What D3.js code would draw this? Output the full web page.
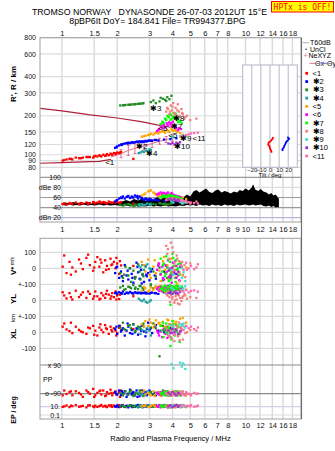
<!DOCTYPE html>
<html>
<head>
<meta charset="utf-8">
<script src="https://cdn.jsdelivr.net/npm/d3@7/dist/d3.min.js"></script>
<style>
  body { margin: 0; background: #fff; }
  text { font-family: "Liberation Sans", Arial, sans-serif; }
</style>
</head>
<body>
<svg id="chart" width="335" height="451"></svg>
<script>
// ---- data ----
const freqTicks = [1, 1.5, 2, 3, 4, 5, 6, 7, 8, 10, 12, 14, 16, 18];
const freqTicksMid = [1, 1.5, 2, 3, 4, 5, 6, 7, 8, 9, 10, 12, 14, 16, 18];
const rangeTicks = [800, 600, 400, 300, 200, 150, 120, 100, 90, 80];
const tiltTicks = [-20, -10, 0, 10, 20];
const classNames = ["<1", "✱2", "✱3", "✱4", "<5", "<6", "✱7", "✱8", "✱9", "✱10", "<11"];
const classColors = ["#ff0000", "#0000ff", "#228b22", "#20a0a0", "#ffa500", "#ff00ff",
                     "#00ff00", "#f08080", "#40e0d0", "#9932cc", "#ff69b4"];

// echo rows: [freq MHz, range km, amp dB, V* m/s, YL km, XL km, PP deg, EP deg]
const e1 = [
  [1.03, 91, 48, 80, 30, 55, -70, 12], [1.06, 92, 46, -30, 12, 18, -92, 20],
  [1.10, 93, 49, 40, 45, 8, -80, 8], [1.14, 92, 47, 5, 5, -5, -100, 14],
  [1.19, 95, 50, -20, 60, 35, -75, 25], [1.24, 94, 47, 55, 20, 15, -85, 10],
  [1.30, 95, 48, -5, 50, 0, -110, 16], [1.36, 96, 50, 65, 15, -10, -70, 7],
  [1.42, 96, 49, 20, 40, 25, -90, 22], [1.48, 95, 51, -15, 10, 40, -60, 12],
  [1.52, 98, 48, 40, 55, 10, -100, 18], [1.56, 97, 50, 70, 25, -20, -85, 9],
  [1.60, 99, 52, 10, 5, 30, -75, 14], [1.64, 97, 49, 35, 45, 15, -95, 26],
  [1.68, 100, 51, -25, 30, 0, -70, 11], [1.72, 98, 50, 50, 15, 45, -105, 17],
  [1.76, 101, 48, 15, 60, 20, -80, 8], [1.80, 99, 52, -5, 35, -10, -90, 21],
  [1.84, 102, 50, 60, 10, 35, -65, 13], [1.88, 100, 49, 25, 45, 5, -100, 9],
  [1.92, 103, 51, 40, 20, 25, -85, 19], [1.96, 101, 50, 0, 55, 10, -75, 12],
  [2.00, 104, 52, 30, 30, -5, -95, 15], [2.05, 103, 49, -35, 8, 28, -80, 24],
  [2.10, 105, 51, 18, 42, 12, -70, 10], [2.45, 93, 48, 15, 25, 20, -90, 12],
  [1.01, 90, 47, 10, 50, 35, -100, 9], [1.12, 93, 48, -40, 20, 60, -75, 18],
  [1.27, 94, 49, 30, 35, 5, -95, 12], [1.39, 96, 47, 85, 55, 30, -80, 20],
  [1.50, 97, 50, 5, 25, -15, -110, 8], [1.62, 98, 51, 55, 10, 50, -70, 16],
  [1.74, 99, 49, -10, 40, 25, -100, 11], [1.86, 101, 50, 20, 25, 15, -85, 23],
  [1.98, 103, 52, 65, 5, -20, -95, 9], [2.07, 104, 50, 45, 35, 40, -110, 14]
];
const e2 = [
  [1.95, 113, 52, -30, 45, 20, -80, 12], [2.00, 116, 55, 10, 40, -10, -95, 20],
  [2.05, 118, 58, -60, 50, 40, -70, 8], [2.10, 120, 60, -20, 45, 5, -100, 15],
  [2.15, 121, 62, -80, 55, 25, -85, 25], [2.20, 122, 58, 20, 40, -20, -75, 10],
  [2.25, 123, 61, -45, 48, 10, -110, 18], [2.30, 124, 63, -70, 44, 35, -90, 7],
  [2.35, 123, 59, 0, 52, -5, -65, 22], [2.40, 125, 62, -35, 46, 15, -95, 12],
  [2.45, 124, 60, -90, 42, 50, -80, 16], [2.50, 125, 64, -55, 50, 0, -100, 9],
  [2.55, 126, 61, 35, 46, 25, -70, 14], [2.60, 125, 58, -25, 44, -15, -90, 26],
  [2.65, 127, 62, -65, 48, 30, -105, 11], [2.70, 126, 60, -10, 43, 10, -85, 17],
  [2.75, 127, 57, -40, 47, 45, -75, 8], [2.80, 126, 55, -85, 45, 5, -95, 21],
  [2.85, 128, 58, 15, 49, -25, -80, 13], [2.90, 127, 56, -50, 44, 20, -100, 9],
  [2.95, 128, 54, -30, 46, 60, -90, 19], [3.00, 129, 57, -75, 42, 15, -70, 12],
  [3.10, 128, 55, -5, 48, -5, -95, 15], [3.20, 130, 56, -45, 45, 35, -85, 24],
  [3.35, 129, 54, 25, 40, 10, -80, 10], [3.60, 131, 53, -20, 50, 0, -90, 14],
  [3.90, 132, 55, -60, 45, 25, -100, 12], [4.20, 134, 52, -35, 42, 5, -85, 18],
  [1.98, 114, 54, 5, 48, 35, -90, 10], [2.12, 119, 59, -50, 42, 15, -75, 19],
  [2.28, 122, 62, -15, 46, 55, -95, 13], [2.42, 124, 60, -60, 44, -10, -85, 8],
  [2.58, 126, 63, 10, 47, 20, -110, 22], [2.72, 125, 59, -95, 45, 40, -70, 12],
  [2.88, 127, 57, -40, 43, 0, -95, 16], [3.05, 128, 56, -20, 47, 25, -80, 9],
  [3.25, 130, 55, -65, 44, 45, -100, 20]
];
const e3 = [
  [2.08, 240, 45, -30, 80, 30, -85, 12], [2.15, 241, 44, -60, 90, 60, -100, 20],
  [2.22, 242, 46, 10, 70, 15, -75, 8], [2.30, 243, 47, -45, 85, 40, -95, 15],
  [2.38, 244, 45, -85, 75, 25, -70, 25], [2.45, 245, 43, -15, 95, 50, -105, 10],
  [2.52, 246, 46, -55, 80, 10, -85, 18], [2.60, 247, 44, 25, 70, 35, -90, 7],
  [2.68, 248, 46, -70, 88, 20, -75, 22], [2.75, 249, 45, -35, 78, 45, -100, 12],
  [3.05, 255, 48, -100, 92, 30, -80, 16], [3.15, 262, 47, -20, 75, 55, -95, 9],
  [3.25, 250, 46, -50, 85, 25, -85, 14], [3.40, 258, 49, 5, 68, -150, -85, 26],
  [3.55, 270, 47, -75, 80, 40, -70, 11], [3.65, 265, 48, -30, 90, 15, -90, 17],
  [3.75, 278, 46, -60, 72, 35, -100, 8], [3.85, 268, 47, -10, 85, 20, -80, 21],
  [3.95, 285, 48, -45, 78, 45, -95, 13], [2.18, 241, 45, -40, 65, 20, -90, 10],
  [2.34, 243, 46, 0, 82, 45, -80, 17], [2.50, 245, 44, -65, 72, 5, -95, 12],
  [2.65, 247, 47, -20, 90, 30, -70, 21], [2.78, 250, 45, -50, 66, 55, -105, 9],
  [3.45, 275, 48, -35, 88, 10, -90, 14], [3.70, 260, 46, 15, 70, 30, -85, 11]
];
const e4 = [
  [2.62, 103, 46, 15, 10, 20, -85, 12], [2.68, 104, 44, 5, 0, -10, -95, 20],
  [2.74, 106, 47, 20, -5, 15, -80, 8], [2.80, 105, 45, -10, 5, 35, -100, 15],
  [2.86, 108, 46, 10, -10, 5, -90, 25], [2.92, 107, 48, 25, -15, 25, -75, 10],
  [3.00, 110, 47, 0, -8, 10, -85, 18], [3.05, 109, 45, -5, 0, -20, -95, 12]
];
const e5 = [
  [2.72, 138, 64, 40, 60, 50, -80, 12], [2.85, 140, 68, -20, 75, 70, -95, 20],
  [2.95, 142, 72, 55, 55, 40, -85, 8], [3.05, 145, 74, -60, 80, 60, -100, 15],
  [3.15, 143, 70, 10, 65, 30, -75, 25], [3.25, 148, 66, -30, 85, 75, -90, 10],
  [3.35, 146, 63, 30, 70, 55, -80, 18], [3.45, 150, 65, -80, 60, 45, -105, 7],
  [3.55, 152, 62, 45, 78, 65, -85, 22], [3.65, 148, 64, -10, 55, 35, -95, 12],
  [3.75, 155, 61, 20, 72, 80, -75, 16], [3.85, 150, 63, -50, 82, 50, -90, 9],
  [3.95, 158, 60, 60, 68, 40, -100, 14], [4.05, 153, 62, -25, 76, 70, -85, 26],
  [4.15, 156, 59, 15, 62, 55, -80, 11], [4.25, 150, 61, -95, 88, 45, -95, 17],
  [4.40, 147, 58, 35, 70, 85, -90, 8], [4.55, 143, 60, -40, 74, 90, -85, 21],
  [4.75, 140, 57, 5, 66, 60, -100, 13], [2.80, 139, 66, 20, 85, 35, -70, 16],
  [3.00, 143, 73, -40, 62, 80, -95, 9], [3.20, 146, 68, 50, 78, 45, -105, 20],
  [3.40, 149, 64, -15, 90, 60, -85, 12], [3.60, 150, 63, 70, 58, 30, -95, 17],
  [3.80, 152, 62, -70, 74, 75, -80, 10], [4.00, 155, 61, 0, 84, 50, -90, 23],
  [4.20, 152, 60, -55, 64, 65, -100, 13]
];
const e6 = [
  [3.30, 152, 66, -10, 70, 10, -85, 12], [3.38, 158, 68, 30, 60, -20, -95, 20],
  [3.45, 165, 70, -40, 80, 5, -80, 8], [3.52, 160, 67, 10, 55, -30, -100, 15],
  [3.60, 170, 69, -70, 75, 20, -90, 25], [3.66, 162, 66, 20, 85, -10, -75, 10],
  [3.72, 175, 68, -25, 65, 0, -95, 18], [3.78, 168, 70, 50, 90, 15, -85, 7],
  [3.84, 178, 65, -55, 70, -25, -100, 22], [3.90, 172, 67, 0, 60, 10, -80, 12],
  [3.96, 165, 69, -90, 78, -5, -90, 16], [4.02, 180, 66, 35, 68, 25, -95, 9],
  [4.10, 170, 64, -15, 82, -15, -85, 14], [4.20, 160, 63, 15, 72, 5, -75, 26],
  [4.30, 155, 62, -45, 64, -20, -90, 11], [4.45, 158, 60, 25, 76, 10, -100, 17],
  [3.35, 155, 67, 15, 82, -5, -90, 10], [3.55, 168, 69, -60, 62, 15, -80, 20],
  [3.75, 172, 67, 5, 76, -35, -95, 13], [3.95, 175, 66, -30, 88, 0, -85, 8],
  [4.15, 165, 64, 45, 66, 20, -100, 18], [4.35, 160, 62, -75, 74, -10, -80, 12]
];
const e7 = [
  [3.45, 172, 60, 60, 70, 40, -85, 12], [3.52, 180, 62, -20, 85, 10, -95, 20],
  [3.58, 175, 64, 30, 60, -30, -80, 8], [3.64, 190, 61, -50, 90, 25, -100, 15],
  [3.70, 185, 63, 75, 55, 55, -90, 25], [3.76, 200, 60, 5, 80, -10, -75, 10],
  [3.82, 195, 65, -80, 65, 30, -95, 18], [3.88, 205, 62, 40, 95, 0, -85, 7],
  [3.94, 188, 64, -30, 75, -45, -100, 22], [4.00, 198, 61, 90, 88, 70, -80, 12],
  [4.06, 210, 63, 15, 60, 15, -90, 16], [4.12, 192, 60, -60, 78, -20, -95, 9],
  [4.18, 202, 62, 50, 92, 45, -85, 14], [4.24, 185, 59, -10, 70, 5, -75, 26],
  [4.30, 178, 61, 25, 82, 35, -100, 11], [4.38, 182, 58, -40, 66, -60, -90, 17],
  [4.50, 175, 57, 10, 86, 20, -80, 8], [3.90, 186, 60, -70, -28, -86, -95, 12],
  [3.55, 178, 63, 20, 75, 60, -90, 10], [3.68, 188, 62, -35, 68, 0, -80, 20],
  [3.80, 197, 64, 55, 84, 20, -100, 13], [3.92, 203, 63, -15, 62, -30, -85, 8],
  [4.04, 193, 62, 65, 80, 50, -95, 18], [4.16, 208, 61, -85, 72, 10, -75, 12],
  [4.28, 190, 60, 0, 90, -15, -90, 22], [4.42, 180, 58, 30, 64, 30, -100, 9]
];
const e8 = [
  [3.70, 215, 55, 140, 40, 30, -85, 12], [3.78, 225, 57, 120, 55, -20, -95, 20],
  [3.85, 205, 58, 60, 20, 50, -80, 8], [3.92, 240, 56, 160, 35, 10, -100, 15],
  [3.98, 220, 59, -20, 10, -40, -90, 25], [4.04, 250, 55, 100, 45, 25, -75, 10],
  [4.10, 210, 57, 30, -15, -55, -95, 18], [4.16, 230, 58, -60, 25, 5, -85, 7],
  [4.22, 200, 56, 80, 5, 40, -100, 22], [4.28, 245, 54, -30, -20, -25, -80, 12],
  [4.34, 215, 57, 45, 30, 60, -90, 16], [4.40, 195, 55, -80, 15, -10, -95, 9],
  [4.48, 225, 53, 10, -5, 20, -85, 14], [4.56, 205, 54, -45, 25, -45, -75, 26],
  [4.65, 190, 52, 20, 40, 35, -100, 11], [4.80, 200, 50, -10, 10, 0, -90, 17],
  [5.00, 185, 48, 30, 20, 15, -95, 13], [5.40, 190, 52, 5, 15, 10, -90, 12],
  [3.75, 230, 56, 90, 30, 15, -90, 10], [3.88, 215, 57, -40, -10, -30, -80, 20],
  [4.00, 235, 58, 130, 20, 45, -100, 13], [4.12, 205, 56, -10, 0, -15, -85, 8],
  [4.25, 220, 55, 60, 35, 25, -95, 18], [4.38, 200, 56, -25, -25, -50, -75, 12],
  [4.52, 210, 53, 40, 15, 50, -90, 22], [4.70, 195, 51, -55, 30, -5, -100, 9]
];
const e9 = [
  [3.95, 138, 52, -10, 80, 45, 95, 12], [4.05, 136, 50, -40, 70, 35, 70, 20],
  [4.40, 139, 51, 5, 85, 50, 105, 8], [4.50, 137, 49, -60, 65, 40, 80, 15],
  [4.60, 140, 52, -25, 75, 55, 95, 25], [4.70, 138, 50, -80, 88, 30, 65, 10],
  [4.55, 141, 48, -5, 60, 45, 100, 18]
];
const e10 = [
  [3.80, 122, 56, -15, 45, 10, -85, 12], [3.90, 121, 58, -45, 55, -5, -95, 20],
  [4.00, 123, 55, 5, 40, 20, -80, 8], [4.10, 120, 57, -30, 50, 0, -90, 15],
  [4.20, 124, 54, -60, 48, 15, -100, 25], [4.30, 122, 56, -20, 42, -10, -85, 10],
  [4.40, 125, 53, 10, 52, 5, -90, 18]
];
const e11 = [
  [4.45, 138, 54, 20, 60, 30, -85, 12], [4.60, 140, 52, -10, 55, 15, -95, 20],
  [4.75, 142, 53, 35, 65, 40, -80, 8], [4.90, 144, 51, 0, 50, 25, -90, 15],
  [5.05, 146, 50, 15, 58, 35, -100, 25], [5.25, 147, 49, -5, 62, 20, -85, 10],
  [5.50, 148, 48, 25, 54, 30, -90, 18]
];
const classes = [e1, e2, e3, e4, e5, e6, e7, e8, e9, e10, e11];

// class annotation anchors [freq, range]
const classLabelPos = [[1.72, 88], [2.54, 117], [3.02, 231], [2.87, 104], [3.8, 141], [3.35, 160],
                       [3.93, 168], [4.03, 192], [4.4, 134], [4.08, 117], [5.15, 134]];

// profile curves [freq, range]
const profileLow = [[0.76, 86], [1.0, 87], [1.3, 88], [1.6, 89], [1.85, 92]];
const profileHigh = [[0.76, 228], [1.0, 218], [1.43, 203], [2.0, 192], [2.7, 180], [3.3, 170], [3.9, 163]];
const neXYZ = [[1.85, 96, 0], [2.1, 102, 4], [2.3, 108, 5], [2.5, 112, 5], [2.8, 117, 4],
               [3.1, 122, 4], [3.4, 127, 3], [3.7, 131, 3], [4.0, 134, 3]];

// tilt [deg, range]
const tiltX = [[3.5, 137], [3, 133], [1, 128], [-1.5, 124], [-2, 120], [-0.5, 116], [0, 112], [1, 108], [2, 104]];
const tiltY = [[19, 137], [21, 133], [20, 130], [18, 126], [17, 122], [16, 118], [15, 113], [13.5, 110], [14, 107]];

// noise amplitude envelope [freq, low dB, high dB]
const noiseDb = [
  [1.00, 45, 49], [1.05, 44, 50], [1.10, 46, 48], [1.15, 44, 51], [1.20, 45, 49], [1.26, 44, 50],
  [1.32, 46, 49], [1.38, 44, 51], [1.45, 45, 48], [1.52, 44, 50], [1.60, 46, 49], [1.68, 44, 51],
  [1.76, 45, 50], [1.85, 44, 49], [1.94, 45, 51], [2.03, 44, 50], [2.13, 43, 52], [2.24, 44, 55],
  [2.35, 42, 52], [2.47, 44, 57], [2.60, 42, 54], [2.73, 43, 58], [2.87, 42, 53], [3.00, 44, 60],
  [3.15, 42, 55], [3.30, 43, 61], [3.46, 42, 56], [3.63, 44, 62], [3.80, 42, 58], [3.98, 43, 60],
  [4.17, 42, 57], [4.37, 44, 63], [4.58, 43, 60], [4.80, 45, 66], [5.00, 44, 62], [5.20, 45, 72],
  [5.40, 43, 75], [5.62, 46, 70], [5.85, 44, 74], [6.10, 45, 78], [6.35, 43, 71], [6.60, 46, 69],
  [6.85, 44, 74], [7.10, 45, 76], [7.40, 43, 70], [7.70, 46, 73], [8.00, 44, 71], [8.30, 45, 68],
  [8.65, 43, 72], [9.00, 46, 70], [9.30, 44, 75], [9.65, 45, 73], [10.0, 46, 78], [10.4, 44, 74],
  [10.8, 45, 80], [11.0, 46, 86], [11.3, 44, 76], [11.7, 45, 73], [12.1, 46, 77], [12.5, 43, 72],
  [13.0, 42, 70], [13.4, 44, 66], [13.8, 41, 69], [14.2, 43, 64], [14.6, 40, 66], [15.0, 41, 60],
  [15.2, 40, 58]
];

// ---- drawing ----
const svg = d3.select('#chart');
const L = 40, R = 301, topY0 = 37.7, topY1 = 222, botY0 = 238.3, botY1 = 419;

const x = d3.scaleLog().domain([0.76, 20.05]).range([L, R]);
const yR = d3.scaleLog().domain([80, 800]).range([167.3, 37.7]);
const yDb = d3.scaleLinear().domain([20, 100]).range([217.7, 177.3]);
const yV = d3.scaleLinear().domain([-100, 100]).range([284.3, 252.3]);
const yYL = d3.scaleLinear().domain([-100, 100]).range([316.3, 284.3]);
const yXL = d3.scaleLinear().domain([-100, 100]).range([348.3, 316.3]);
const yPP = d3.scaleLinear().domain([-90, 90]).range([393.7, 365]);
const yEP = d3.scaleLog().domain([0.1, 10]).range([415, 406.7]);
const xTilt = d3.scaleLinear().domain([-30, 30]).range([242.7, 297.3]);

const defs = svg.append('defs');
defs.append('clipPath').attr('id', 'clipR').append('rect')
  .attr('x', L).attr('y', topY0).attr('width', R - L).attr('height', 172 - topY0);
defs.append('clipPath').attr('id', 'clipDb').append('rect')
  .attr('x', L).attr('y', 172).attr('width', R - L).attr('height', topY1 - 172);
defs.append('clipPath').attr('id', 'clipBot').append('rect')
  .attr('x', L).attr('y', botY0).attr('width', R - L).attr('height', botY1 - botY0);

// header
svg.append('text').attr('x', 149.5).attr('y', 15).attr('text-anchor', 'middle')
  .style('font-size', '8.8px').text('TROMSO NORWAY   DYNASONDE 26-07-03 2012UT 15°E')
  .attr('xml:space', 'preserve');
svg.append('text').attr('x', 157.5).attr('y', 23.5).attr('text-anchor', 'middle')
  .style('font-size', '8.8px').text('8pBP6It DoY= 184.841 File= TR994377.BPG');
svg.append('rect').attr('x', 271.5).attr('y', 1.5).attr('width', 62).attr('height', 10.5)
  .attr('fill', '#ffff00').attr('stroke', '#ff0000').attr('stroke-width', 1);
svg.append('text').attr('x', 302.5).attr('y', 9.8).attr('text-anchor', 'middle')
  .style('font-family', '"DejaVu Sans Mono", monospace').style('font-size', '8px')
  .attr('fill', '#ff0000').text('HPTx is OFF!');

// vertical grid
[[topY0, topY1], [botY0, botY1]].forEach(([a, b]) => {
  svg.append('g').selectAll('line').data(freqTicks).enter().append('line')
    .attr('x1', d => x(d)).attr('x2', d => x(d)).attr('y1', a).attr('y2', b)
    .attr('stroke', '#dcdcdc').attr('stroke-width', 1.5);
});

// range grid
svg.append('g').selectAll('line').data(rangeTicks).enter().append('line')
  .attr('x1', L).attr('x2', R).attr('y1', d => yR(d)).attr('y2', d => yR(d))
  .attr('stroke', '#dcdcdc').attr('stroke-width', 1.2);

// dB grid
const dbLines = [[100, '#9a9a9a'], [80, '#dcdcdc'], [60, '#9a9a9a'], [40, '#9a9a9a'], [20, '#b8b8e0']];
svg.append('g').selectAll('line').data(dbLines).enter().append('line')
  .attr('x1', L).attr('x2', R).attr('y1', d => yDb(d[0])).attr('y2', d => yDb(d[0]))
  .attr('stroke', d => d[1]).attr('stroke-width', 1.2);

// bottom grid
const botLines = [yV(100), yV(0), yV(-100), yYL(0), yYL(-100), yXL(0), yXL(-100)];
svg.append('g').selectAll('line').data(botLines).enter().append('line')
  .attr('x1', L).attr('x2', R).attr('y1', d => d).attr('y2', d => d)
  .attr('stroke', '#dcdcdc').attr('stroke-width', 1.2);
svg.append('g').selectAll('line').data([[yPP(90), '#8a8a8a'], [yPP(-90), '#8a8a8a'], [yEP(10), '#d0d0e8'], [yEP(0.1), '#dcdcdc']])
  .enter().append('line')
  .attr('x1', L).attr('x2', R).attr('y1', d => d[0]).attr('y2', d => d[0])
  .attr('stroke', d => d[1]).attr('stroke-width', 1.2);

// profile lines
const lineR = d3.line().x(d => x(d[0])).y(d => yR(d[1]));
const gR = svg.append('g').attr('clip-path', 'url(#clipR)');
gR.append('path').attr('d', lineR(profileLow)).attr('fill', 'none').attr('stroke', '#b0203a').attr('stroke-width', 1.2);
gR.append('path').attr('d', lineR(profileHigh)).attr('fill', 'none').attr('stroke', '#b0203a').attr('stroke-width', 1.2);
gR.append('path').attr('d', lineR(neXYZ)).attr('fill', 'none').attr('stroke', '#e07090').attr('stroke-width', 1);
const ebar = gR.append('g').selectAll('g').data(neXYZ.filter(d => d[2] > 0)).enter().append('g')
  .attr('stroke', '#e07090').attr('stroke-width', 1);
ebar.append('line').attr('x1', d => x(d[0])).attr('x2', d => x(d[0]))
  .attr('y1', d => yR(d[1]) - d[2]).attr('y2', d => yR(d[1]) + d[2]);
ebar.append('line').attr('x1', d => x(d[0]) - 1.5).attr('x2', d => x(d[0]) + 1.5)
  .attr('y1', d => yR(d[1]) - d[2]).attr('y2', d => yR(d[1]) - d[2]);
ebar.append('line').attr('x1', d => x(d[0]) - 1.5).attr('x2', d => x(d[0]) + 1.5)
  .attr('y1', d => yR(d[1]) + d[2]).attr('y2', d => yR(d[1]) + d[2]);

// squares
function plotSquares(g, yScale, col) {
  classes.forEach((rows, i) => {
    g.append('g').selectAll('rect').data(rows).enter().append('rect')
      .attr('x', d => x(d[0]) - 1.15).attr('y', d => yScale(d[col]) - 1.15)
      .attr('width', 2.3).attr('height', 2.3).attr('fill', classColors[i]);
  });
}
plotSquares(gR, yR, 1);

// class labels
gR.append('g').selectAll('text').data(classLabelPos).enter().append('text')
  .attr('x', d => x(d[0])).attr('y', d => yR(d[1]) + 3)
  .style('font-size', '8px').attr('fill', '#000')
  .text((d, i) => classNames[i]);

// tilt inset
const gT = svg.append('g');
gT.append('rect').attr('x', xTilt(-30)).attr('y', 65).attr('width', xTilt(30) - xTilt(-30)).attr('height', 102.3)
  .attr('fill', '#fff').attr('stroke', '#b4b4c8').attr('stroke-width', 1);
gT.selectAll('line.tg').data(tiltTicks).enter().append('line')
  .attr('x1', d => xTilt(d)).attr('x2', d => xTilt(d)).attr('y1', 65).attr('y2', 167.3)
  .attr('stroke', '#b4b4c8').attr('stroke-width', 1);
const lineT = d3.line().x(d => xTilt(d[0])).y(d => yR(d[1]));
gT.append('path').attr('d', lineT(tiltX)).attr('fill', 'none').attr('stroke', '#ff0000').attr('stroke-width', 1.8);
gT.append('path').attr('d', lineT(tiltY)).attr('fill', 'none').attr('stroke', '#0000ff').attr('stroke-width', 1.8);
gT.append('g').attr('transform', 'translate(0,166)')
  .call(d3.axisBottom(xTilt).tickValues(tiltTicks).tickSize(0).tickPadding(1.5))
  .call(g => g.select('.domain').remove())
  .selectAll('text').style('font-size', '6px').attr('fill', '#222');
gT.append('text').attr('x', xTilt(0)).attr('y', 177).attr('text-anchor', 'middle')
  .style('font-size', '6px').text('Tilt / deg');

// dB panel
const gD = svg.append('g').attr('clip-path', 'url(#clipDb)');
gD.append('path').attr('d', d3.area().x(d => x(d[0])).y0(d => yDb(d[1])).y1(d => yDb(d[2]))(noiseDb))
  .attr('fill', '#000');
plotSquares(gD, yDb, 2);

// bottom panels
const gB = svg.append('g').attr('clip-path', 'url(#clipBot)');
plotSquares(gB, yV, 3);
plotSquares(gB, yYL, 4);
plotSquares(gB, yXL, 5);
plotSquares(gB, yPP, 6);
plotSquares(gB, yEP, 7);

// frames
svg.append('rect').attr('x', L).attr('y', topY0).attr('width', R - L).attr('height', topY1 - topY0)
  .attr('fill', 'none').attr('stroke', '#a0a0a0').attr('stroke-width', 1);
svg.append('rect').attr('x', L).attr('y', botY0).attr('width', R - L).attr('height', botY1 - botY0)
  .attr('fill', 'none').attr('stroke', '#a0a0a0').attr('stroke-width', 1);
svg.append('line').attr('x1', R + 0.5).attr('x2', R + 0.5).attr('y1', topY0).attr('y2', botY1)
  .attr('stroke', '#707070').attr('stroke-width', 1.2);

// axes
function styleAxis(g, size) {
  g.select('.domain').remove();
  g.selectAll('text').style('font-size', size).attr('fill', '#111');
}
svg.append('g').attr('transform', 'translate(0,' + (topY0 + 1) + ')')
  .call(d3.axisTop(x).tickValues(freqTicks).tickFormat(d => d).tickSize(0).tickPadding(3))
  .call(g => styleAxis(g, '7.5px'));
svg.append('g').attr('transform', 'translate(0,' + (topY1 + 2) + ')')
  .call(d3.axisBottom(x).tickValues(freqTicksMid).tickFormat(d => d).tickSize(0).tickPadding(3))
  .call(g => styleAxis(g, '7.5px'));
svg.append('g').attr('transform', 'translate(0,' + (botY1 + 1) + ')')
  .call(d3.axisBottom(x).tickValues(freqTicks).tickFormat(d => d).tickSize(0).tickPadding(3))
  .call(g => styleAxis(g, '7.5px'));
svg.append('g').attr('transform', 'translate(' + L + ',0)')
  .call(d3.axisLeft(yR).tickValues(rangeTicks).tickFormat(d3.format('d')).tickSize(0).tickPadding(4))
  .call(g => styleAxis(g, '7px'));

const dbLabel = { 100: '100', 80: 'dBe 80', 60: '60', 40: '40', 20: 'dBn 20' };
svg.append('g').attr('transform', 'translate(64,0)')
  .call(d3.axisLeft(yDb).tickValues([100, 80, 60, 40, 20]).tickFormat(d => dbLabel[d]).tickSize(0).tickPadding(3))
  .call(g => styleAxis(g, '7px'));

const vLab = { 100: '100', 0: '0', '-100': '+-100' };
svg.append('g').attr('transform', 'translate(' + L + ',0)')
  .call(d3.axisLeft(yV).tickValues([100, 0, -100]).tickFormat(d => vLab[d]).tickSize(0).tickPadding(4))
  .call(g => styleAxis(g, '7px'));
svg.append('g').attr('transform', 'translate(' + L + ',0)')
  .call(d3.axisLeft(yYL).tickValues([0, -100]).tickFormat(d => d === 0 ? '0' : '+-100').tickSize(0).tickPadding(4))
  .call(g => styleAxis(g, '7px'));
svg.append('g').attr('transform', 'translate(' + L + ',0)')
  .call(d3.axisLeft(yXL).tickValues([0, -100]).tickFormat(d => d === 0 ? '0' : '-100').tickSize(0).tickPadding(4))
  .call(g => styleAxis(g, '7px'));
svg.append('g').attr('transform', 'translate(64,0)')
  .call(d3.axisLeft(yPP).tickValues([90, -90]).tickFormat(d => d > 0 ? 'x 90' : 'o -90').tickSize(0).tickPadding(3))
  .call(g => styleAxis(g, '7px'));
svg.append('g').attr('transform', 'translate(63,0)')
  .call(d3.axisLeft(yEP).tickValues([10, 0.1]).tickFormat(d => d === 10 ? '10.' : '0.1').tickSize(0).tickPadding(3))
  .call(g => styleAxis(g, '7px'));
svg.append('text').attr('x', 43).attr('y', 381.5).style('font-size', '7px').text('PP');

// axis titles
function vTitle(xp, yp, txt, size) {
  return svg.append('text').attr('transform', 'translate(' + xp + ',' + yp + ') rotate(-90)')
    .attr('text-anchor', 'middle').style('font-size', size).style('font-weight', 'bold').text(txt);
}
vTitle(16, 84, "R', R / km", '8px');
const vs = vTitle(16, 266, 'V*', '8px');
vs.append('tspan').attr('dx', 1.5).attr('dy', -2).style('font-size', '5px').style('font-weight', 'normal').text('m/s');
vTitle(16, 299, 'YL', '8px');
vTitle(15, 318, 'km', '6px').style('font-weight', 'normal');
vTitle(16, 334, 'XL', '8px');
vTitle(16, 410, 'EP / deg', '7px');
svg.append('text').attr('x', 170.5).attr('y', 440.5).attr('text-anchor', 'middle')
  .style('font-size', '7.5px').text('Radio and Plasma Frequency / MHz');

// legend
const lg = svg.append('g');
lg.append('line').attr('x1', 302.5).attr('x2', 309).attr('y1', 42.7).attr('y2', 42.7).attr('stroke', '#bbb').attr('stroke-width', 1.2);
lg.append('text').attr('x', 310).attr('y', 45).style('font-size', '7px').text('T60dB');
lg.append('circle').attr('cx', 306).attr('cy', 49.3).attr('r', 0.7).attr('fill', '#000');
lg.append('text').attr('x', 310).attr('y', 51.6).style('font-size', '7px').text('UnCl');
lg.append('text').attr('x', 305.5).attr('y', 58).attr('text-anchor', 'middle').style('font-size', '7px').attr('fill', '#e07090').text('+');
lg.append('text').attr('x', 308.5).attr('y', 58).style('font-size', '7px').text('NeXYZ');
lg.append('line').attr('x1', 309.5).attr('x2', 315).attr('y1', 63.3).attr('y2', 63.3).attr('stroke', '#e07090').attr('stroke-width', 1);
lg.append('text').attr('x', 315).attr('y', 65.6).style('font-size', '7px').text('Θx');
lg.append('line').attr('x1', 322).attr('x2', 327).attr('y1', 63.3).attr('y2', 63.3).attr('stroke', '#6060ff').attr('stroke-width', 1);
lg.append('text').attr('x', 327).attr('y', 65.6).style('font-size', '7px').text('Θy');
const li = lg.selectAll('g.it').data(classNames).enter().append('g')
  .attr('transform', (d, i) => 'translate(0,' + (73.3 + i * 8.27) + ')');
li.append('rect').attr('x', 305.3).attr('y', -1.4).attr('width', 2.8).attr('height', 2.8).attr('fill', (d, i) => classColors[i]);
li.append('text').attr('x', 312.5).attr('y', 2.6).style('font-size', '7.5px').text(d => d);
</script>
</body>
</html>
